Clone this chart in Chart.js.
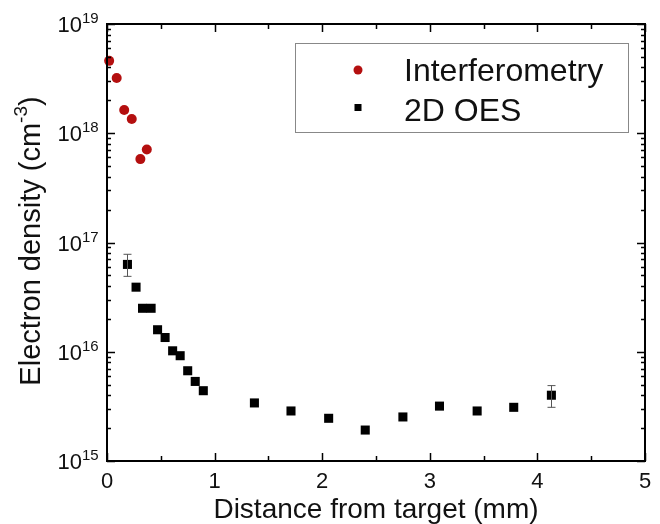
<!DOCTYPE html>
<html>
<head>
<meta charset="utf-8">
<script src="https://cdn.jsdelivr.net/npm/chart.js@4.4.1/dist/chart.umd.min.js"></script>
<style>
  html, body { margin: 0; padding: 0; background: #fff; }
  #wrap { width: 660px; height: 524px; }
</style>
</head>
<body>
<div id="wrap"><canvas id="chart" width="660" height="524"></canvas></div>
<script>
const FONT = '"Liberation Sans", Arial, sans-serif';

// Interferometry (red circles)
const interfX = [0.02, 0.09, 0.16, 0.23, 0.31, 0.37];
const interfY = [4.6e18, 3.2e18, 1.63e18, 1.35e18, 5.8e17, 7.1e17];

// 2D OES (black squares)
const oesX = [0.19, 0.27, 0.33, 0.41, 0.47, 0.54, 0.61, 0.68, 0.75, 0.82, 0.895,
  1.37, 1.71, 2.06, 2.40, 2.75, 3.09, 3.44, 3.78, 4.13];
const oesY = [6.3e16, 3.9e16, 2.5e16, 2.5e16, 1.59e16, 1.35e16, 1.02e16, 9.2e15, 6.7e15, 5.35e15, 4.4e15,
  3.4e15, 2.87e15, 2.46e15, 1.92e15, 2.53e15, 3.18e15, 2.87e15, 3.1e15, 4.0e15];
// error bars (only first and last points have them)
const oesErrLow = [4.9e16, null, null, null, null, null, null, null, null, null, null,
  null, null, null, null, null, null, null, null, 3.1e15];
const oesErrHigh = [7.8e16, null, null, null, null, null, null, null, null, null, null,
  null, null, null, null, null, null, null, null, 4.9e15];

const xTicks = [0, 1, 2, 3, 4, 5];
const yDecades = [15, 16, 17, 18, 19];

const seriesNames = ['Interferometry', '2D OES'];
const seriesColors = ['#b40f0f', '#000000'];

const toPoints = (xs, ys) => xs.map((x, i) => ({ x, y: ys[i] }));

const decorPlugin = {
  id: 'decor',
  afterDatasetsDraw(chart) {
    const { ctx, chartArea: a, scales: { x, y } } = chart;
    ctx.save();
    ctx.strokeStyle = '#000';

    // inward ticks on all four sides
    ctx.lineWidth = 1.5;
    ctx.beginPath();
    for (let v = 0; v <= 5.001; v += 0.5) {
      const px = Math.round(x.getPixelForValue(v)) + 0.5;
      const len = Math.abs(v - Math.round(v)) < 1e-6 ? 8 : 5;
      ctx.moveTo(px, a.bottom); ctx.lineTo(px, a.bottom - len);
      ctx.moveTo(px, a.top); ctx.lineTo(px, a.top + len);
    }
    yDecades.forEach((e) => {
      for (let m = 1; m <= 9; m++) {
        if (e === 19 && m > 1) break;
        const py = Math.round(y.getPixelForValue(m * Math.pow(10, e))) + 0.5;
        const len = m === 1 ? 8 : 4;
        ctx.moveTo(a.left, py); ctx.lineTo(a.left + len, py);
        ctx.moveTo(a.right, py); ctx.lineTo(a.right - len, py);
      }
    });
    ctx.stroke();

    // frame
    ctx.lineWidth = 2;
    ctx.strokeRect(a.left, a.top, a.right - a.left, a.bottom - a.top);

    // error bars
    ctx.strokeStyle = '#555';
    ctx.lineWidth = 1;
    ctx.beginPath();
    oesX.forEach((vx, i) => {
      if (oesErrLow[i] == null) return;
      const px = Math.round(x.getPixelForValue(vx)) + 0.5;
      const pl = y.getPixelForValue(oesErrLow[i]);
      const ph = y.getPixelForValue(oesErrHigh[i]);
      ctx.moveTo(px, pl); ctx.lineTo(px, ph);
      ctx.moveTo(px - 4, pl); ctx.lineTo(px + 4, pl);
      ctx.moveTo(px - 4, ph); ctx.lineTo(px + 4, ph);
    });
    ctx.stroke();

    // y tick labels 10^n
    ctx.fillStyle = '#111';
    ctx.textBaseline = 'alphabetic';
    yDecades.forEach((e) => {
      const py = y.getPixelForValue(Math.pow(10, e));
      ctx.font = '22px ' + FONT;
      ctx.textAlign = 'right';
      ctx.fillText('10', 82, py + 8);
      ctx.font = '15px ' + FONT;
      ctx.textAlign = 'left';
      ctx.fillText(String(e), 82, py - 1);
    });

    // y axis title, rotated
    ctx.save();
    ctx.translate(40, 241);
    ctx.rotate(-Math.PI / 2);
    const main = 'Electron density (cm';
    ctx.font = '29px ' + FONT;
    const w1 = ctx.measureText(main).width;
    ctx.font = '19px ' + FONT;
    const w2 = ctx.measureText('-3').width;
    ctx.font = '29px ' + FONT;
    const w3 = ctx.measureText(')').width;
    let sx = -(w1 + w2 + w3) / 2;
    ctx.textAlign = 'left';
    ctx.fillText(main, sx, 0);
    sx += w1;
    ctx.font = '19px ' + FONT;
    ctx.fillText('-3', sx, -13);
    sx += w2;
    ctx.font = '29px ' + FONT;
    ctx.fillText(')', sx, 0);
    ctx.restore();

    // legend box
    ctx.strokeStyle = '#888';
    ctx.lineWidth = 1;
    ctx.strokeRect(295.5, 43.5, 333, 89);
    ctx.font = '32px ' + FONT;
    ctx.fillStyle = '#111';
    ctx.textAlign = 'left';
    ctx.fillText(seriesNames[0], 404, 81);
    ctx.fillText(seriesNames[1], 404, 121);
    ctx.fillStyle = seriesColors[0];
    ctx.beginPath();
    ctx.arc(358, 70, 4.5, 0, Math.PI * 2);
    ctx.fill();
    ctx.fillStyle = seriesColors[1];
    ctx.fillRect(354.5, 104, 7, 7);

    ctx.restore();
  }
};

new Chart(document.getElementById('chart'), {
  type: 'scatter',
  data: {
    datasets: [
      {
        label: seriesNames[0],
        data: toPoints(interfX, interfY),
        pointStyle: 'circle',
        pointRadius: 5,
        backgroundColor: seriesColors[0],
        borderColor: seriesColors[0],
        borderWidth: 0,
        clip: false,
      },
      {
        label: seriesNames[1],
        data: toPoints(oesX, oesY),
        pointStyle: 'rect',
        pointRadius: 6.4,
        backgroundColor: seriesColors[1],
        borderColor: seriesColors[1],
        borderWidth: 0,
        clip: false,
      },
    ],
  },
  options: {
    responsive: false,
    animation: false,
    events: [],
    layout: { padding: { top: 24, right: 15, left: 0, bottom: 0 } },
    plugins: { legend: { display: false }, tooltip: { enabled: false } },
    scales: {
      x: {
        type: 'linear',
        min: 0,
        max: 5,
        afterFit: (s) => { s.height = 63; },
        afterBuildTicks: (s) => { s.ticks = xTicks.map((v) => ({ value: v })); },
        grid: { display: false },
        border: { display: false },
        ticks: { color: '#111', font: { family: FONT, size: 22 }, padding: 0, maxRotation: 0 },
        title: {
          display: true,
          text: 'Distance from target (mm)',
          color: '#111',
          font: { family: FONT, size: 28, lineHeight: 1 },
          padding: { top: 0, bottom: 0 },
        },
      },
      y: {
        type: 'logarithmic',
        min: 1e15,
        max: 1e19,
        afterFit: (s) => { s.width = 107; },
        grid: { display: false },
        border: { display: false },
        ticks: { display: false },
      },
    },
  },
  plugins: [decorPlugin],
});
</script>
</body>
</html>
